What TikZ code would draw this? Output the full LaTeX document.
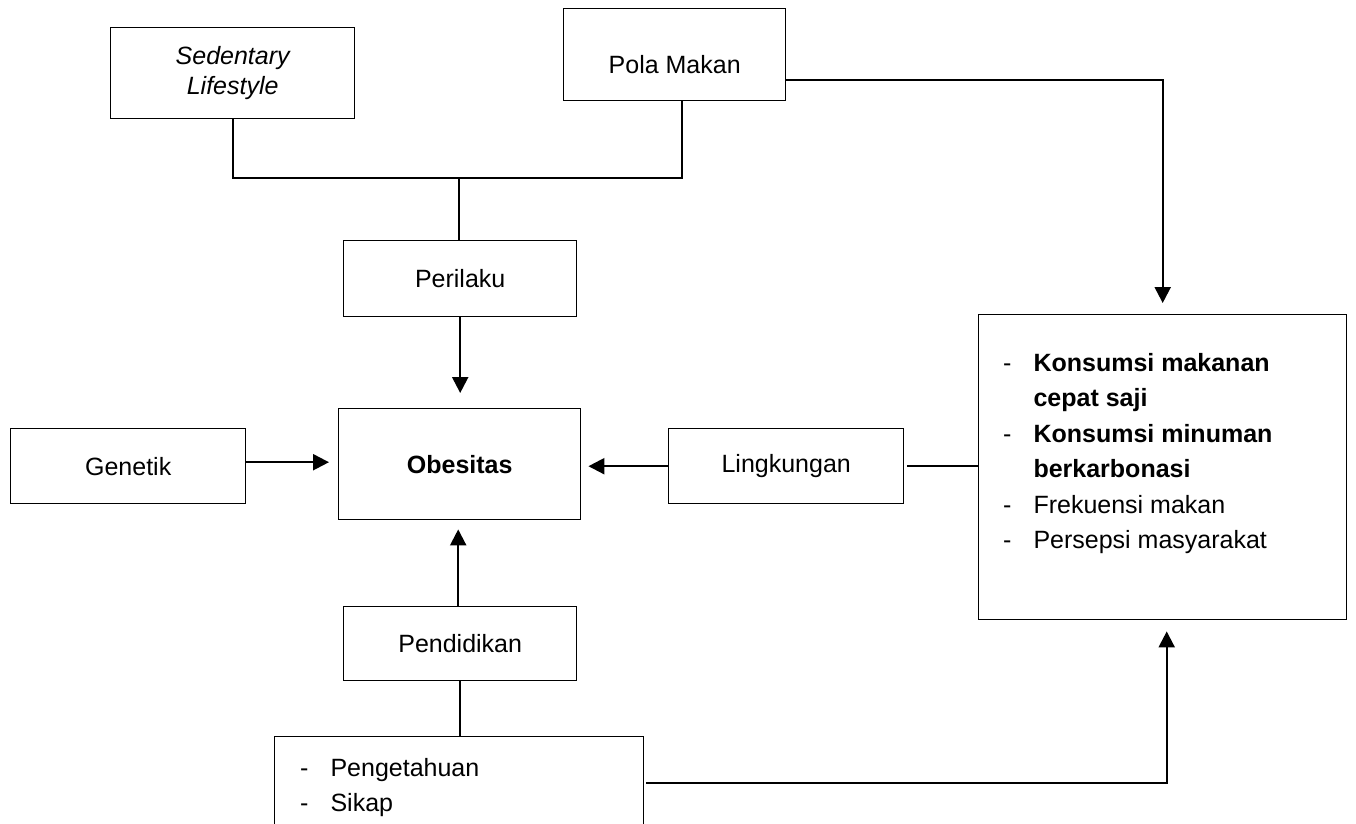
\documentclass[tikz,border=0pt]{standalone}
\usepackage{fontspec}
\setmainfont{Liberation Sans}
\usetikzlibrary{arrows.meta}
\begin{document}
\begin{tikzpicture}[x=1pt,y=-1pt,
  box/.style={draw, line width=1.4pt, inner sep=0pt, anchor=north west},
  conn/.style={line width=2.2pt},
  arr/.style={conn, -{Triangle[length=16pt,width=16pt]}},
  plain/.style={inner sep=0pt},
  font=\fontsize{25}{35.5}\selectfont]
\useasboundingbox (0,0) rectangle (1356,823);
\clip (0,0) rectangle (1356,823);
% boxes
\node[box, minimum width=244pt, minimum height=91pt, align=center,
      font=\fontsize{25}{30}\selectfont\itshape] (sed) at (110,27) {Sedentary\\Lifestyle};
\node[box, minimum width=222pt, minimum height=92pt] (pola) at (563,8) {};
\node[plain] (polat) at ([yshift=-10pt]pola.center) {Pola Makan};
\node[box, minimum width=233pt, minimum height=76pt] (peri) at (343,240) {Perilaku};
\node[box, minimum width=242pt, minimum height=111pt] (obes) at (338,408) {\textbf{Obesitas}};
\node[box, minimum width=235pt, minimum height=75pt] (gen) at (10,428) {Genetik};
\node[box, minimum width=235pt, minimum height=75pt] (ling) at (668,428) {Lingkungan};
\node[box, minimum width=368pt, minimum height=305pt] (kons) at (978,314) {};
\node[plain, anchor=north west] (konst) at (1003,346) {%
  \begin{tabular}{@{}c@{\hspace{22pt}}l@{}}
  - & \textbf{Konsumsi makanan}\\
    & \textbf{cepat saji}\\
  - & \textbf{Konsumsi minuman}\\
    & \textbf{berkarbonasi}\\
  - & Frekuensi makan\\
  - & Persepsi masyarakat
  \end{tabular}};
\node[box, minimum width=233pt, minimum height=74pt] (pend) at (343,606) {Pendidikan};
\node[box, minimum width=369pt, minimum height=92pt] (peng) at (274,736) {};
\node[plain, anchor=north west] (pengt) at (300,751) {%
  \begin{tabular}{@{}c@{\hspace{22pt}}l@{}}
  - & Pengetahuan\\
  - & Sikap
  \end{tabular}};
% connectors
\coordinate (j) at (459,178);
\coordinate (pj) at (682,178);
\draw[conn] (sed.south) -- (sed.south |- j) -- (pj) -- (pj |- pola.south);
\draw[conn] (j) -- (j |- peri.north);
\draw[arr, shorten >=15pt] (peri.south) -- (peri.south |- obes.north);
\draw[arr, shorten >=9pt] ([xshift=-2pt]pend.north) -- ([xshift=-2pt]pend.north |- obes.south);
\draw[arr, shorten >=9pt] ([yshift=4pt]gen.east) -- ([yshift=4pt]gen.east -| obes.west);
\draw[arr, shorten >=7pt] (ling.west) -- (ling.west -| obes.east);
\draw[conn, shorten <=3pt] (ling.east) -- (ling.east -| kons.west);
\draw[arr, shorten >=11pt] ([yshift=-25pt]pola.east) -| (kons.north);
\draw[arr, shorten >=11pt, shorten <=2pt] (peng.east) -| ([xshift=4pt]kons.south);
\draw[conn] (pend.south) -- (pend.south |- peng.north);
\end{tikzpicture}
\end{document}
